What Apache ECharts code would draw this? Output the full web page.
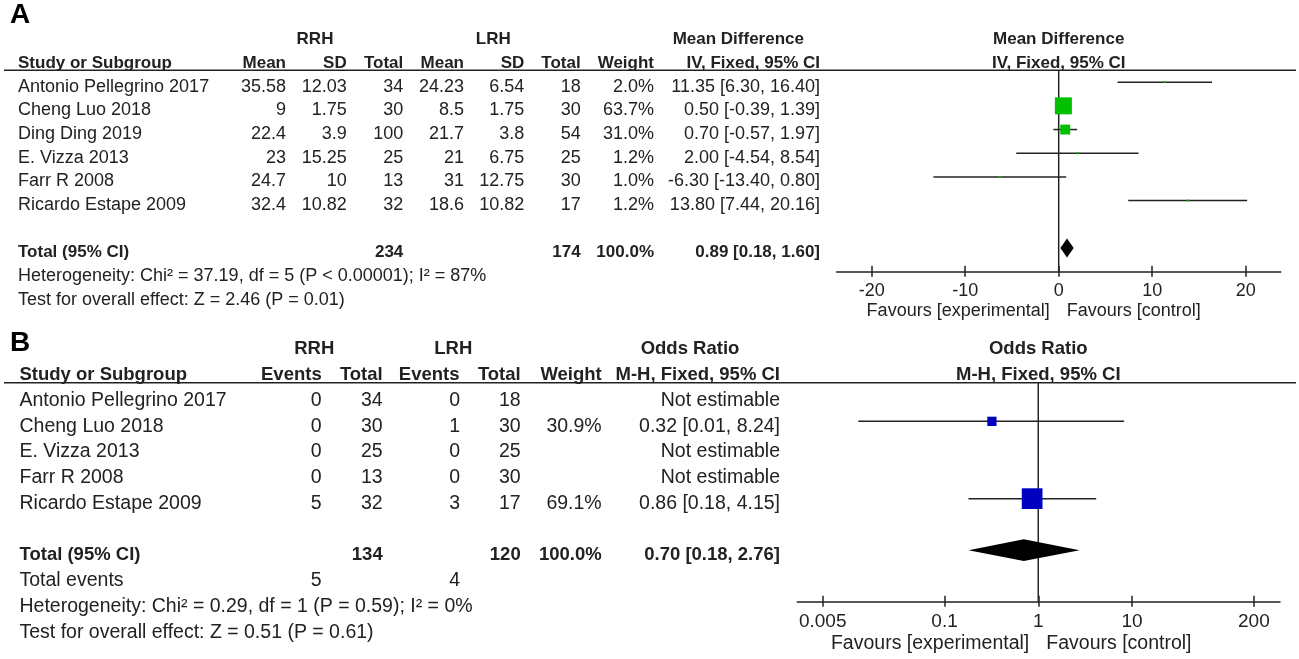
<!DOCTYPE html>
<html>
<head>
<meta charset="utf-8">
<title>Forest plots RRH vs LRH</title>
<script src="https://cdn.jsdelivr.net/npm/echarts@6/dist/echarts.min.js"></script>
<style>
  html, body { margin: 0; padding: 0; background: #fff; }
  #main { width: 1299px; height: 659px; }
</style>
</head>
<body>
<div id="main"></div>
<script>
// ---- panel A: mean difference ----
const studiesA = ['Antonio Pellegrino 2017', 'Cheng Luo 2018', 'Ding Ding 2019', 'E. Vizza 2013', 'Farr R 2008', 'Ricardo Estape 2009'];
const rrhMeanA = [35.58, 9, 22.4, 23, 24.7, 32.4];
const rrhSdA = [12.03, 1.75, 3.9, 15.25, 10, 10.82];
const rrhTotalA = [34, 30, 100, 25, 13, 32];
const lrhMeanA = [24.23, 8.5, 21.7, 21, 31, 18.6];
const lrhSdA = [6.54, 1.75, 3.8, 6.75, 12.75, 10.82];
const lrhTotalA = [18, 30, 54, 25, 30, 17];
const weightA = [2.0, 63.7, 31.0, 1.2, 1.0, 1.2];
const mdA = [11.35, 0.50, 0.70, 2.00, -6.30, 13.80];
const mdLowA = [6.30, -0.39, -0.57, -4.54, -13.40, 7.44];
const mdHighA = [16.40, 1.39, 1.97, 8.54, 0.80, 20.16];
const totalsA = [234, 174];
const pooledA = [0.89, 0.18, 1.60];
const hetA = 'Heterogeneity: Chi\u00b2 = 37.19, df = 5 (P < 0.00001); I\u00b2 = 87%';
const testA = 'Test for overall effect: Z = 2.46 (P = 0.01)';
const ticksA = [-20, -10, 0, 10, 20];

// ---- panel B: odds ratio ----
const studiesB = ['Antonio Pellegrino 2017', 'Cheng Luo 2018', 'E. Vizza 2013', 'Farr R 2008', 'Ricardo Estape 2009'];
const rrhEventsB = [0, 0, 0, 0, 5];
const rrhTotalB = [34, 30, 25, 13, 32];
const lrhEventsB = [0, 1, 0, 0, 3];
const lrhTotalB = [18, 30, 25, 30, 17];
const weightB = [null, 30.9, null, null, 69.1];
const orB = [null, 0.32, null, null, 0.86];
const orLowB = [null, 0.012, null, null, 0.18];
const orHighB = [null, 8.24, null, null, 4.15];
const totalsB = [134, 120];
const eventsB = [5, 4];
const pooledB = [0.70, 0.18, 2.76];
const hetB = 'Heterogeneity: Chi\u00b2 = 0.29, df = 1 (P = 0.59); I\u00b2 = 0%';
const testB = 'Test for overall effect: Z = 0.51 (P = 0.61)';
const ticksB = [0.005, 0.1, 1, 10, 200];
const tickLabelsB = ['0.005', '0.1', '1', '10', '200'];

const FONT = '"Liberation Sans", Arial, sans-serif';
const INK = '#222';
const f2 = v => v.toFixed(2);
const ci = (e, l, h) => f2(e) + ' [' + f2(l) + ', ' + f2(h) + ']';
const pct = w => w.toFixed(1) + '%';
const cell = (text, x, align, bold) => ({ text: String(text), x, align, bold: !!bold });

// table rows, A
const rowsA = [];
rowsA.push({ row: -2, cells: [cell('RRH', 315, 'center', 1), cell('LRH', 493.3, 'center', 1), cell('Mean Difference', 738.3, 'center', 1)] });
rowsA.push({ row: -1, cells: [
  cell('Study or Subgroup', 18, 'left', 1), cell('Mean', 286, 'right', 1), cell('SD', 346.7, 'right', 1),
  cell('Total', 403.3, 'right', 1), cell('Mean', 464, 'right', 1), cell('SD', 524.3, 'right', 1),
  cell('Total', 580.7, 'right', 1), cell('Weight', 654, 'right', 1), cell('IV, Fixed, 95% CI', 820, 'right', 1)] });
studiesA.forEach((s, i) => rowsA.push({ row: i, cells: [
  cell(s, 18, 'left'), cell(rrhMeanA[i], 286, 'right'), cell(rrhSdA[i], 346.7, 'right'),
  cell(rrhTotalA[i], 403.3, 'right'), cell(lrhMeanA[i], 464, 'right'), cell(lrhSdA[i], 524.3, 'right'),
  cell(lrhTotalA[i], 580.7, 'right'), cell(pct(weightA[i]), 654, 'right'),
  cell(ci(mdA[i], mdLowA[i], mdHighA[i]), 820, 'right')] }));
rowsA.push({ row: 7, cells: [
  cell('Total (95% CI)', 18, 'left', 1), cell(totalsA[0], 403.3, 'right', 1), cell(totalsA[1], 580.7, 'right', 1),
  cell(pct(100), 654, 'right', 1), cell(ci(pooledA[0], pooledA[1], pooledA[2]), 820, 'right', 1)] });
rowsA.push({ row: 8, cells: [cell(hetA, 18, 'left')] });
rowsA.push({ row: 9, cells: [cell(testA, 18, 'left')] });

// table rows, B
const rowsB = [];
rowsB.push({ row: -2, cells: [cell('RRH', 314.3, 'center', 1), cell('LRH', 453.3, 'center', 1), cell('Odds Ratio', 690, 'center', 1)] });
rowsB.push({ row: -1, cells: [
  cell('Study or Subgroup', 19.5, 'left', 1), cell('Events', 321.7, 'right', 1), cell('Total', 382.7, 'right', 1),
  cell('Events', 459.5, 'right', 1), cell('Total', 520.7, 'right', 1), cell('Weight', 601.7, 'right', 1),
  cell('M-H, Fixed, 95% CI', 780, 'right', 1)] });
studiesB.forEach((s, i) => rowsB.push({ row: i, cells: [
  cell(s, 19.5, 'left'), cell(rrhEventsB[i], 321.7, 'right'), cell(rrhTotalB[i], 382.7, 'right'),
  cell(lrhEventsB[i], 460, 'right'), cell(lrhTotalB[i], 520.7, 'right'),
  cell(weightB[i] == null ? '' : pct(weightB[i]), 601.7, 'right'),
  cell(orB[i] == null ? 'Not estimable' : ci(orB[i], orLowB[i], orHighB[i]), 780, 'right')] }));
rowsB.push({ row: 6, cells: [
  cell('Total (95% CI)', 19.5, 'left', 1), cell(totalsB[0], 382.7, 'right', 1), cell(totalsB[1], 520.7, 'right', 1),
  cell(pct(100), 601.7, 'right', 1), cell(ci(pooledB[0], pooledB[1], pooledB[2]), 780, 'right', 1)] });
rowsB.push({ row: 7, cells: [cell('Total events', 19.5, 'left'), cell(eventsB[0], 321.7, 'right'), cell(eventsB[1], 460, 'right')] });
rowsB.push({ row: 8, cells: [cell(hetB, 19.5, 'left')] });
rowsB.push({ row: 9, cells: [cell(testB, 19.5, 'left')] });

// square side from weight
const sideA = w => Math.max(2, 17 * Math.pow(w / 63.7, 0.75));
const sideB = w => 20.7 * w / 69.1;

function textEl(x, y, text, align, size, bold) {
  return { type: 'text', x, y, style: { text, align, verticalAlign: 'middle', fontFamily: FONT,
    fontSize: size, fontWeight: bold ? 'bold' : 'normal', fill: INK } };
}

function tableSeries(rows, g, xRef, dy, body, bold) {
  return {
    type: 'custom', xAxisIndex: g * 2, yAxisIndex: g, clip: false, silent: true,
    data: rows.map(r => [xRef, r.row]),
    renderItem(params, api) {
      const y = api.coord([api.value(0), api.value(1)])[1] + dy;
      const r = rows[params.dataIndex];
      return { type: 'group', children: r.cells.map(c => textEl(c.x, y, c.text, c.align, c.bold ? bold : body, c.bold)) };
    }
  };
}

function frameSeries(g, xRef, dy, headers, favDy, favSize, bold) {
  return {
    type: 'custom', xAxisIndex: g * 2, yAxisIndex: g, clip: false, silent: true,
    data: [[xRef, -0.5]],
    renderItem(params, api) {
      const top = api.coord([xRef, -0.5]);
      const bot = api.coord([xRef, 8]);
      const line = { stroke: INK, lineWidth: 1.5 };
      return { type: 'group', children: [
        { type: 'line', shape: { x1: 4, y1: top[1], x2: 1296, y2: top[1] }, style: line },
        { type: 'line', shape: { x1: top[0], y1: top[1], x2: bot[0], y2: bot[1] }, style: line },
        textEl(top[0], api.coord([xRef, -2])[1] + dy, headers[0], 'center', bold, true),
        textEl(top[0], api.coord([xRef, -1])[1] + dy, headers[1], 'center', bold, true),
        textEl(top[0] - 9, bot[1] + favDy, 'Favours [experimental]', 'right', favSize, false),
        textEl(top[0] + 8, bot[1] + favDy, 'Favours [control]', 'left', favSize, false)
      ] };
    }
  };
}

function forestSeries(g, items, sideFn, color) {
  return {
    type: 'custom', xAxisIndex: g * 2, yAxisIndex: g, clip: false, silent: true,
    data: items,
    renderItem(params, api) {
      const row = api.value(1), est = api.value(0), lo = api.value(2), hi = api.value(3), w = api.value(4);
      const a = api.coord([lo, row]), b = api.coord([hi, row]), c = api.coord([est, row]);
      const s = sideFn(w);
      return { type: 'group', children: [
        { type: 'line', shape: { x1: a[0], y1: a[1], x2: b[0], y2: b[1] }, style: { stroke: INK, lineWidth: 1.5 } },
        { type: 'rect', shape: { x: c[0] - s / 2, y: c[1] - s / 2, width: s, height: s }, style: { fill: color } }
      ] };
    }
  };
}

function diamondSeries(g, pooled, row, h) {
  return {
    type: 'custom', xAxisIndex: g * 2, yAxisIndex: g, clip: false, silent: true,
    data: [[pooled[0], row, pooled[1], pooled[2]]],
    renderItem(params, api) {
      const c = api.coord([api.value(0), api.value(1)]);
      const l = api.coord([api.value(2), api.value(1)]);
      const r = api.coord([api.value(3), api.value(1)]);
      return { type: 'polygon', shape: { points: [[l[0], c[1]], [c[0], c[1] - h / 2], [r[0], c[1]], [c[0], c[1] + h / 2]] },
        style: { fill: '#000' } };
    }
  };
}

// main axis at the bottom (line, labels, lower ticks) plus a twin pushed down
// from the top onto the same line that adds the upper half of each tick
function xAxes(g, type, min, max, ticks, fmt, size, margin, gridH) {
  const base = { gridIndex: g, type, min, max, splitLine: { show: false } };
  if (type === 'log') base.logBase = 10;
  const ls = { color: INK, width: 1.5 };
  return [
    Object.assign({}, base, {
      position: 'bottom',
      axisLine: { show: true, onZero: false, lineStyle: ls },
      axisTick: { show: true, inside: false, length: 5, customValues: ticks, lineStyle: ls },
      axisLabel: { show: true, customValues: ticks, margin, formatter: fmt, fontFamily: FONT, fontSize: size, color: INK }
    }),
    Object.assign({}, base, {
      position: 'top', offset: -gridH,
      axisLine: { show: false, onZero: false },
      axisTick: { show: true, inside: false, length: 6, customValues: ticks, lineStyle: ls },
      axisLabel: { show: false }
    })
  ];
}

const itemsA = studiesA.map((s, i) => [mdA[i], i, mdLowA[i], mdHighA[i], weightA[i]]);
const itemsB = [];
studiesB.forEach((s, i) => { if (orB[i] != null) itemsB.push([orB[i], i, orLowB[i], orHighB[i], weightB[i]]); });

const fmtB = v => {
  const k = ticksB.findIndex(t => Math.abs(Math.log10(t) - Math.log10(v)) < 1e-6);
  return k < 0 ? '' : tickLabelsB[k];
};

const chart = echarts.init(document.getElementById('main'));
chart.setOption({
  animation: false,
  backgroundColor: '#fff',
  grid: [
    { left: 836.7, top: 70.3, width: 444, height: 201.4, outerBoundsMode: 'none', containLabel: false },
    { left: 797.3, top: 382.7, width: 482.7, height: 219, outerBoundsMode: 'none', containLabel: false }
  ],
  xAxis: [
    ...xAxes(0, 'value', -23.75, 23.75, ticksA, v => String(v), 18, 10, 201.4),
    ...xAxes(1, 'log', 0.00268, 380, ticksB, fmtB, 19, 11, 219)
  ],
  yAxis: [
    { gridIndex: 0, type: 'value', inverse: true, min: -0.5, max: 8, show: false },
    { gridIndex: 1, type: 'value', inverse: true, min: -0.5, max: 8, show: false }
  ],
  graphic: [
    { type: 'text', x: 10, y: 15, style: { text: 'A', fontFamily: FONT, fontSize: 28, fontWeight: 'bold', fill: '#000', verticalAlign: 'middle' } },
    { type: 'text', x: 10, y: 343, style: { text: 'B', fontFamily: FONT, fontSize: 28, fontWeight: 'bold', fill: '#000', verticalAlign: 'middle' } }
  ],
  series: [
    tableSeries(rowsA, 0, 0, 4.5, 18, 17),
    frameSeries(0, 0, 4.5, ['Mean Difference', 'IV, Fixed, 95% CI'], 39.3, 18, 17),
    forestSeries(0, itemsA, sideA, '#00c000'),
    diamondSeries(0, pooledA, 7, 19),
    tableSeries(rowsB, 1, 1, 5, 19.5, 18.5),
    frameSeries(1, 1, 5, ['Odds Ratio', 'M-H, Fixed, 95% CI'], 41.6, 19.5, 18.5),
    forestSeries(1, itemsB, sideB, '#0000c0'),
    diamondSeries(1, pooledB, 6, 21.7)
  ]
});
</script>
</body>
</html>
